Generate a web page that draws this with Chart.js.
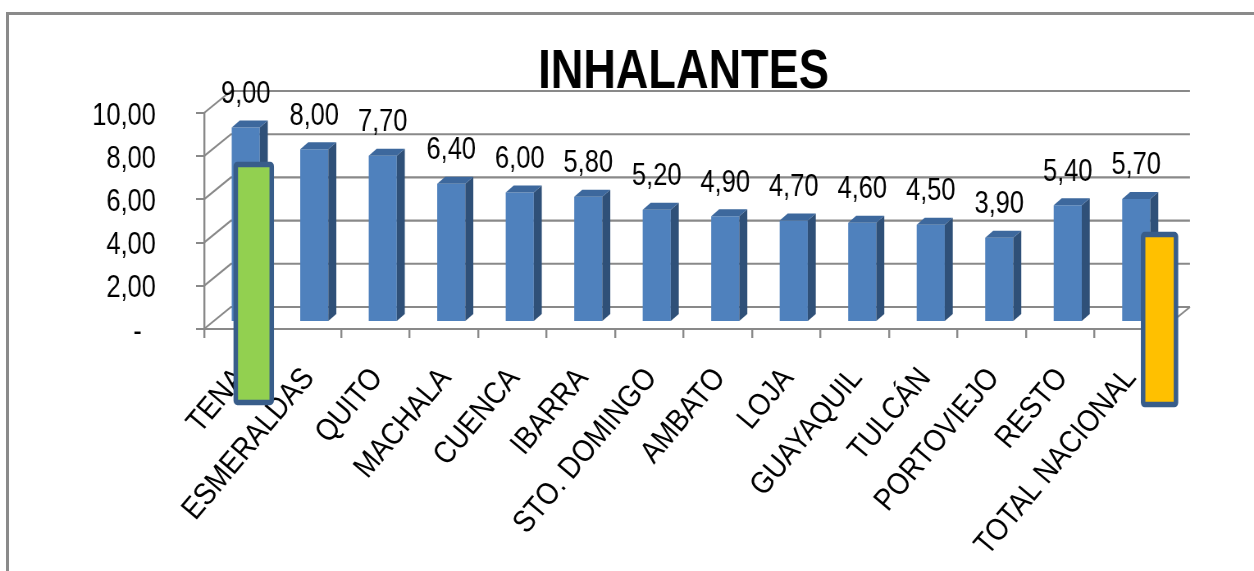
<!DOCTYPE html>
<html><head><meta charset="utf-8">
<script src="https://cdn.jsdelivr.net/npm/chart.js@4.4.1/dist/chart.umd.min.js"></script>
<style>
html,body{margin:0;padding:0;background:#fff;}
#wrap{position:relative;width:1254px;height:571px;overflow:hidden;background:#fff;}
#frame{position:absolute;left:6px;top:12px;width:1300px;height:700px;border-top:3px solid #8a8a8a;border-left:3px solid #8a8a8a;}
canvas{position:absolute;left:0;top:0;}
</style></head><body>
<div id="wrap"><div id="frame"></div><canvas id="c" width="1529" height="571" style="width:1254px;height:571px;"></canvas></div>
<script>
const categories = ['TENA','ESMERALDAS','QUITO','MACHALA','CUENCA','IBARRA','STO. DOMINGO','AMBATO','LOJA','GUAYAQUIL','TULCÁN','PORTOVIEJO','RESTO','TOTAL NACIONAL'];
const values = [9.00, 8.00, 7.70, 6.40, 6.00, 5.80, 5.20, 4.90, 4.70, 4.60, 4.50, 3.90, 5.40, 5.70];
const yTickValues = [0, 2, 4, 6, 8, 10];
const yTickLabels = ['-  ', '2,00', '4,00', '6,00', '8,00', '10,00'];
const titleText = 'INHALANTES';

// the canvas is drawn wider and shown narrowed horizontally (condensed look of the original)
const K = 1254 / 1529;
const FONT = "'Liberation Sans', Arial, sans-serif";
const GRID = '#898989';
const WALL_DX = 27 / K, WALL_DY = 22;
const BAR_DX = 7.5 / K, BAR_DY = 7;
const DEPTH_X = 8 / K, DEPTH_Y = 7;
const FRONT = '#4F81BD', SIDE = '#2F5078', TOP = '#3D689D';
// category label style (screen space): rotation, condensing, offset from tick
const LABEL_ANGLE = 50 * Math.PI / 180, LABEL_SQUEEZE = 0.88, LABEL_DX = 2, LABEL_DY = 44, LABEL_SIZE = 31;

const highlights = [
  {index: 0, shift: 0.226, width: 0.525, from: -3.40, to: 7.62, fill: '#92D050'},
  {index: 13, shift: 0.45, width: 0.48, from: -3.50, to: 4.375, fill: '#FFC000'}
];

const threeD = {
  id: 'threeD',
  beforeDatasetsDraw(chart) {
    const {ctx, chartArea: a, scales: {y}} = chart;
    ctx.save();
    ctx.strokeStyle = GRID; ctx.lineWidth = 2.1;
    yTickValues.forEach(v => {
      const py = y.getPixelForValue(v);
      ctx.beginPath();
      ctx.moveTo(a.left, py);
      ctx.lineTo(a.left + WALL_DX, py - WALL_DY);
      ctx.lineTo(a.right + WALL_DX, py - WALL_DY);
      ctx.stroke();
    });
    const p0 = y.getPixelForValue(0);
    ctx.beginPath(); ctx.moveTo(a.right, p0); ctx.lineTo(a.right + WALL_DX, p0 - WALL_DY); ctx.stroke();
    ctx.restore();
    ctx.save();
    ctx.translate(BAR_DX, -BAR_DY);
  },
  afterDatasetsDraw(chart) {
    const ctx = chart.ctx;
    const meta = chart.getDatasetMeta(0);
    meta.data.forEach((bar, i) => {
      const {x, y, base, width} = bar.getProps(['x', 'y', 'base', 'width'], true);
      const l = x - width / 2, r = x + width / 2;
      ctx.fillStyle = SIDE;
      ctx.beginPath();
      ctx.moveTo(r, y); ctx.lineTo(r + DEPTH_X, y - DEPTH_Y); ctx.lineTo(r + DEPTH_X, base - DEPTH_Y); ctx.lineTo(r, base);
      ctx.closePath(); ctx.fill();
      ctx.fillStyle = TOP;
      ctx.beginPath();
      ctx.moveTo(l, y); ctx.lineTo(l + DEPTH_X, y - DEPTH_Y); ctx.lineTo(r + DEPTH_X, y - DEPTH_Y); ctx.lineTo(r, y);
      ctx.closePath(); ctx.fill();
      ctx.fillStyle = '#000';
      ctx.font = '31px ' + FONT;
      ctx.textAlign = 'center'; ctx.textBaseline = 'middle';
      ctx.fillText(values[i].toFixed(2).replace('.', ','), x, y - 33);
    });
    ctx.restore();
  },
  afterDraw(chart) {
    const {ctx, chartArea: a, scales: {x, y}} = chart;
    // category labels, rotated in screen space
    const axisY = y.getPixelForValue(0);
    categories.forEach((label, i) => {
      ctx.save();
      ctx.scale(1 / K, 1);
      ctx.translate(x.getPixelForTick(i) * K + LABEL_DX, axisY + LABEL_DY);
      ctx.rotate(-LABEL_ANGLE);
      ctx.scale(LABEL_SQUEEZE, 1);
      ctx.font = LABEL_SIZE + 'px ' + FONT;
      ctx.fillStyle = '#000';
      ctx.textAlign = 'right'; ctx.textBaseline = 'middle';
      ctx.fillText(label, 0, 0);
      ctx.restore();
    });
    const catW = (a.right - a.left) / categories.length;
    ctx.save();
    highlights.forEach(h => {
      const cx = x.getPixelForValue(h.index) + h.shift * catW;
      const w = h.width * catW;
      const top = y.getPixelForValue(h.to), bot = y.getPixelForValue(h.from);
      ctx.beginPath();
      ctx.roundRect(cx - w / 2, top, w, bot - top, 2);
      ctx.fillStyle = h.fill; ctx.fill();
      ctx.lineWidth = 5.5; ctx.strokeStyle = '#385D8A'; ctx.stroke();
    });
    ctx.restore();
  }
};

new Chart(document.getElementById('c'), {
  type: 'bar',
  data: {
    labels: categories,
    datasets: [{data: values, backgroundColor: FRONT, barPercentage: 0.41, categoryPercentage: 1.0}]
  },
  options: {
    responsive: false,
    animation: false,
    devicePixelRatio: 1,
    layout: {padding: {left: 0, right: 111, top: 0, bottom: 0}},
    plugins: {
      legend: {display: false},
      tooltip: {enabled: false},
      title: {display: true, text: titleText, fullSize: false, color: '#000',
        font: {family: FONT, size: 55, weight: 'bold'}, padding: {top: 40, bottom: 7}}
    },
    scales: {
      x: {
        offset: true,
        grid: {offset: true, drawOnChartArea: false, drawTicks: true, tickLength: 9, color: GRID, lineWidth: 2.4},
        border: {display: true, color: GRID, width: 2},
        ticks: {display: false, autoSkip: false},
        afterFit(s) { s.height = 242; }
      },
      y: {
        min: 0, max: 10,
        afterBuildTicks(s) { s.ticks = yTickValues.map(v => ({value: v})); },
        grid: {drawOnChartArea: false, drawTicks: true, tickLength: 9.75, color: GRID, lineWidth: 2},
        border: {display: true, color: GRID, width: 2.4},
        ticks: {padding: 49, labelOffset: 3, color: '#000', font: {family: FONT, size: 31},
          callback: (v) => yTickLabels[yTickValues.indexOf(v)]},
        afterFit(s) { s.width = 204 / K; }
      }
    }
  },
  plugins: [threeD]
});
</script>
</body></html>
